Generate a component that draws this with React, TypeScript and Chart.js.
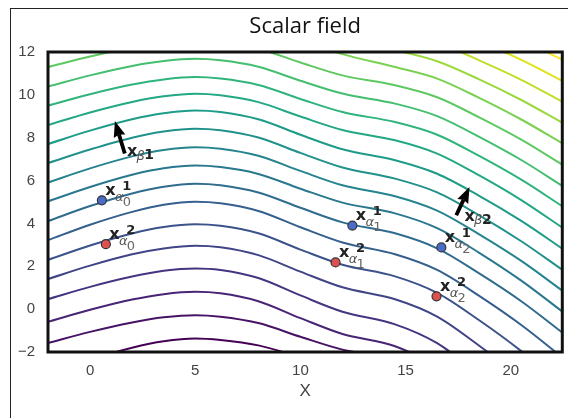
import { useEffect, useRef } from 'react';
import { Chart, registerables } from 'chart.js';

Chart.register(...registerables);

// ---------- data ----------
const xs = [-2, 0, 2, 3.5, 5, 6.2, 8, 10, 12, 14.5, 16.5, 18.5, 20.5, 22.5];

const level0 = [-3.02, -2.36, -1.8, -1.5, -1.37, -1.44, -1.69, -2.23, -2.73, -3.12, -3.82, -4.99, -6.29, -7.79];
const level1 = [-1.58, -1.06, -0.62, -0.38, -0.28, -0.35, -0.65, -1.29, -1.89, -2.34, -3.11, -4.4, -5.84, -7.48];
const level2 = [-0.59, -0.03, 0.45, 0.7, 0.81, 0.74, 0.37, -0.42, -1.16, -1.73, -2.71, -4.35, -6.18, -8.27];
const level3 = [0.47, 1.04, 1.52, 1.79, 1.9, 1.83, 1.45, 0.64, -0.12, -0.71, -1.59, -3.06, -4.71, -6.59];
const level4 = [1.41, 2.03, 2.56, 2.83, 2.96, 2.89, 2.52, 1.75, 1.02, 0.46, -0.35, -1.71, -3.22, -4.95];
const level5 = [2.3, 2.97, 3.53, 3.83, 3.96, 3.89, 3.54, 2.78, 2.07, 1.53, 0.76, -0.52, -1.96, -3.6];
const level6 = [3.22, 3.94, 4.54, 4.87, 5.01, 4.94, 4.58, 3.82, 3.11, 2.56, 1.83, 0.62, -0.74, -2.29];
const level7 = [4.11, 4.81, 5.4, 5.71, 5.85, 5.78, 5.44, 4.73, 4.05, 3.54, 2.84, 1.67, 0.37, -1.13];
const level8 = [5.03, 5.7, 6.27, 6.57, 6.7, 6.63, 6.31, 5.62, 4.97, 4.47, 3.78, 2.63, 1.33, -0.15];
const level9 = [5.91, 6.57, 7.13, 7.43, 7.56, 7.49, 7.16, 6.45, 5.78, 5.27, 4.6, 3.49, 2.25, 0.83];
const level10 = [6.82, 7.45, 8.0, 8.29, 8.42, 8.35, 8.01, 7.29, 6.61, 6.09, 5.45, 4.38, 3.17, 1.8];
const level11 = [7.71, 8.33, 8.86, 9.14, 9.27, 9.2, 8.86, 8.14, 7.46, 6.95, 6.32, 5.29, 4.12, 2.79];
const level12 = [8.59, 9.18, 9.67, 9.93, 10.05, 9.98, 9.66, 8.99, 8.36, 7.88, 7.26, 6.24, 5.09, 3.77];
const level13 = [9.5, 10.03, 10.48, 10.72, 10.83, 10.76, 10.46, 9.81, 9.2, 8.73, 8.14, 7.15, 6.04, 4.77];
const level14 = [10.39, 10.91, 11.35, 11.58, 11.68, 11.61, 11.31, 10.66, 10.06, 9.59, 9.01, 8.04, 6.96, 5.72];
const level15 = [11.3, 11.79, 12.21, 12.42, 12.52, 12.45, 12.15, 11.51, 10.91, 10.45, 9.89, 8.95, 7.91, 6.71];
const level16 = [12.48, 12.98, 13.41, 13.63, 13.74, 13.67, 13.31, 12.56, 11.9, 11.3, 10.76, 9.86, 8.85, 7.71];
const level17 = [12.99, 13.49, 13.92, 14.15, 14.25, 14.18, 13.86, 13.19, 12.56, 12.08, 11.57, 10.72, 9.76, 8.67];
const level18 = [13.83, 14.33, 14.76, 14.99, 15.09, 15.02, 14.7, 14.03, 13.4, 12.92, 12.43, 11.61, 10.7, 9.65];
const level19 = [14.67, 15.17, 15.6, 15.83, 15.93, 15.86, 15.54, 14.87, 14.24, 13.76, 13.29, 12.51, 11.63, 10.63];
const level20 = [15.56, 16.06, 16.49, 16.71, 16.82, 16.75, 16.43, 15.76, 15.13, 14.65, 14.19, 13.43, 12.58, 11.61];

const contourLevels = [
  level0, level1, level2, level3, level4, level5, level6, level7, level8, level9, level10,
  level11, level12, level13, level14, level15, level16, level17, level18, level19, level20,
];

const viridis = [
  '#440154', '#471365', '#482475', '#463480', '#414487', '#3b528b', '#355f8d', '#2f6c8e',
  '#2a788e', '#25848e', '#21918c', '#1e9c89', '#22a884', '#2fb47c', '#44bf70', '#5ec962',
  '#7ad151', '#9bd93c', '#bddf26', '#dfe318', '#fde725',
];

// sample points x_alpha (superscript 1 = blue, 2 = red)
const blueX = [0.56, 12.47, 16.7];
const blueY = [5.08, 3.9, 2.88];
const redX = [0.75, 11.67, 16.47];
const redY = [3.03, 2.18, 0.6];
const alphaSubs = ['0', '1', '2'];

// gradient arrows x_beta
const arrowTailX = [1.65, 17.41];
const arrowTailY = [7.26, 4.38];
const arrowTipX = [1.18, 18.04];
const arrowTipY = [8.78, 5.7];
const betaNames = ['1', '2'];
const betaLabelX = [2.0, 18.05];
const betaLabelY = [7.32, 4.3];

const xTicks = [0, 5, 10, 15, 20];
const xTickLabels = ['0', '5', '10', '15', '20'];
const yTicks = [-2, 0, 2, 4, 6, 8, 10, 12];
const yTickLabels = ['\u22122', '0', '2', '4', '6', '8', '10', '12'];

const titleText = 'Scalar field';
const xTitle = 'X';

// ---------- drawing helpers ----------
function drawAlphaLabel(ctx: CanvasRenderingContext2D, px: number, py: number, sup: string, sub: string) {
  ctx.textAlign = 'center';
  ctx.textBaseline = 'middle';
  ctx.font = 'bold 16px "DejaVu Sans"';
  ctx.fillStyle = '#222';
  ctx.fillText('x', px + 8.6, py - 9.5);
  ctx.font = 'italic 13px "DejaVu Sans"';
  ctx.fillStyle = '#555';
  ctx.fillText('\u03b1', px + 17.5, py - 3);
  ctx.font = 'bold 13px "DejaVu Sans"';
  ctx.fillStyle = '#222';
  ctx.fillText(sup, px + 25, py - 13.5);
  ctx.font = '13px "DejaVu Sans"';
  ctx.fillStyle = '#666';
  ctx.fillText(sub, px + 25, py + 2);
}

function drawBetaLabel(ctx: CanvasRenderingContext2D, px: number, py: number, name: string) {
  ctx.textAlign = 'center';
  ctx.textBaseline = 'middle';
  ctx.font = 'bold 16px "DejaVu Sans"';
  ctx.fillStyle = '#222';
  ctx.fillText('x', px, py);
  ctx.font = 'italic 13px "DejaVu Sans"';
  ctx.fillStyle = '#555';
  ctx.fillText('\u03b2', px + 8.5, py + 4);
  ctx.font = 'bold 14px "DejaVu Sans"';
  ctx.fillStyle = '#222';
  ctx.fillText(name, px + 17, py + 3);
}

const overlayPlugin = {
  id: 'overlay',
  afterDatasetsDraw(chart: any) {
    const { ctx, scales } = chart;
    const sx = scales.x;
    const sy = scales.y;
    ctx.save();
    // arrows
    for (let i = 0; i < arrowTailX.length; i++) {
      const x0 = sx.getPixelForValue(arrowTailX[i]);
      const y0 = sy.getPixelForValue(arrowTailY[i]);
      const x1 = sx.getPixelForValue(arrowTipX[i]);
      const y1 = sy.getPixelForValue(arrowTipY[i]);
      const ang = Math.atan2(y1 - y0, x1 - x0);
      const c = Math.cos(ang);
      const s = Math.sin(ang);
      const headLen = 16;
      const headAxis = 14;
      const headHalf = 6;
      const bx = x1 - headAxis * c;
      const by = y1 - headAxis * s;
      ctx.strokeStyle = '#000';
      ctx.lineWidth = 3.8;
      ctx.lineCap = 'butt';
      ctx.beginPath();
      ctx.moveTo(x0, y0);
      ctx.lineTo(bx, by);
      ctx.stroke();
      const hx = x1 - headLen * c;
      const hy = y1 - headLen * s;
      ctx.fillStyle = '#000';
      ctx.beginPath();
      ctx.moveTo(x1, y1);
      ctx.lineTo(hx - headHalf * s, hy + headHalf * c);
      ctx.lineTo(bx, by);
      ctx.lineTo(hx + headHalf * s, hy - headHalf * c);
      ctx.closePath();
      ctx.fill();
      drawBetaLabel(ctx, sx.getPixelForValue(betaLabelX[i]), sy.getPixelForValue(betaLabelY[i]), betaNames[i]);
    }
    // alpha labels
    for (let i = 0; i < blueX.length; i++) {
      drawAlphaLabel(ctx, sx.getPixelForValue(blueX[i]), sy.getPixelForValue(blueY[i]), '1', alphaSubs[i]);
      drawAlphaLabel(ctx, sx.getPixelForValue(redX[i]), sy.getPixelForValue(redY[i]), '2', alphaSubs[i]);
    }
    ctx.restore();
  },
  afterDraw(chart: any) {
    const { ctx, chartArea: a } = chart;
    ctx.save();
    ctx.strokeStyle = '#111';
    ctx.lineWidth = 3;
    ctx.strokeRect(a.left, a.top, a.right - a.left, a.bottom - a.top);
    ctx.fillStyle = '#111';
    ctx.font = '22px "Open Sans"';
    ctx.textAlign = 'center';
    ctx.textBaseline = 'alphabetic';
    ctx.fillText(titleText, (a.left + a.right) / 2, 33);
    ctx.restore();
  },
};

export default function App() {
  const ref = useRef<HTMLCanvasElement>(null);

  useEffect(() => {
    const canvas = ref.current;
    if (!canvas) return;

    const contourSets = contourLevels.map((ys, k) => ({
      label: 'level ' + k,
      data: xs.map((x, i) => ({ x, y: ys[i] })),
      showLine: true,
      borderColor: viridis[k],
      backgroundColor: viridis[k],
      borderWidth: 2,
      pointRadius: 0,
      tension: 0.4,
      cubicInterpolationMode: 'monotone' as const,
      fill: false,
      order: 1,
    }));

    const chart = new Chart(canvas, {
      type: 'scatter',
      data: {
        datasets: [
          {
            label: 'x alpha 1',
            data: blueX.map((x, i) => ({ x, y: blueY[i] })),
            pointRadius: 4.5,
            pointBackgroundColor: '#4a6cc8',
            backgroundColor: '#4a6cc8',
            pointBorderColor: '#333',
            borderColor: '#333',
            pointBorderWidth: 1.2,
            showLine: false,
            order: 0,
          },
          {
            label: 'x alpha 2',
            data: redX.map((x, i) => ({ x, y: redY[i] })),
            pointRadius: 4.5,
            pointBackgroundColor: '#dc5050',
            backgroundColor: '#dc5050',
            pointBorderColor: '#333',
            borderColor: '#333',
            pointBorderWidth: 1.2,
            showLine: false,
            order: 0,
          },
          ...contourSets,
        ] as any,
      },
      options: {
        responsive: false,
        animation: false,
        devicePixelRatio: 1,
        events: [],
        layout: { padding: { top: 52, right: 1, left: 0, bottom: 0 } },
        plugins: {
          legend: { display: false },
          tooltip: { enabled: false },
          title: { display: false },
        },
        scales: {
          x: {
            type: 'linear',
            min: -2,
            max: 22.45,
            grid: { display: false, drawTicks: false },
            border: { display: false },
            afterBuildTicks: (s: any) => {
              s.ticks = xTicks.map((v) => ({ value: v }));
            },
            ticks: {
              font: { family: 'Liberation Sans', size: 15 },
              color: '#444',
              padding: 10,
              maxRotation: 0,
              autoSkip: false,
              callback: (v: any) => {
                const i = xTicks.indexOf(Number(v));
                return i >= 0 ? xTickLabels[i] : '';
              },
            },
            title: {
              display: true,
              text: xTitle,
              font: { family: 'Liberation Sans', size: 17 },
              color: '#444',
              padding: { top: 0, bottom: 16 },
            },
            afterFit: (s: any) => {
              s.height = 66;
            },
          },
          y: {
            type: 'linear',
            min: -2,
            max: 12,
            grid: { display: false, drawTicks: false },
            border: { display: false },
            afterBuildTicks: (s: any) => {
              s.ticks = yTicks.map((v) => ({ value: v }));
            },
            ticks: {
              font: { family: 'Liberation Sans', size: 15 },
              color: '#444',
              padding: 13,
              autoSkip: false,
              callback: (v: any) => {
                const i = yTicks.indexOf(Number(v));
                return i >= 0 ? yTickLabels[i] : '';
              },
            },
            afterFit: (s: any) => {
              s.width = 48;
            },
          },
        },
      } as any,
      plugins: [overlayPlugin],
    });

    return () => chart.destroy();
  }, []);

  return (
    <div
      style={{
        position: 'absolute',
        left: 0,
        top: 0,
        width: 568,
        height: 418,
        background: '#fff',
        overflow: 'hidden',
      }}
    >
      <div
        style={{
          position: 'absolute',
          left: 10,
          top: 8,
          width: 700,
          height: 600,
          borderLeft: '1.5px solid #222',
          borderTop: '1.5px solid #222',
        }}
      />
      <canvas
        ref={ref}
        width={568}
        height={418}
        style={{ position: 'absolute', left: 0, top: 0, width: 568, height: 418 }}
      />
    </div>
  );
}
